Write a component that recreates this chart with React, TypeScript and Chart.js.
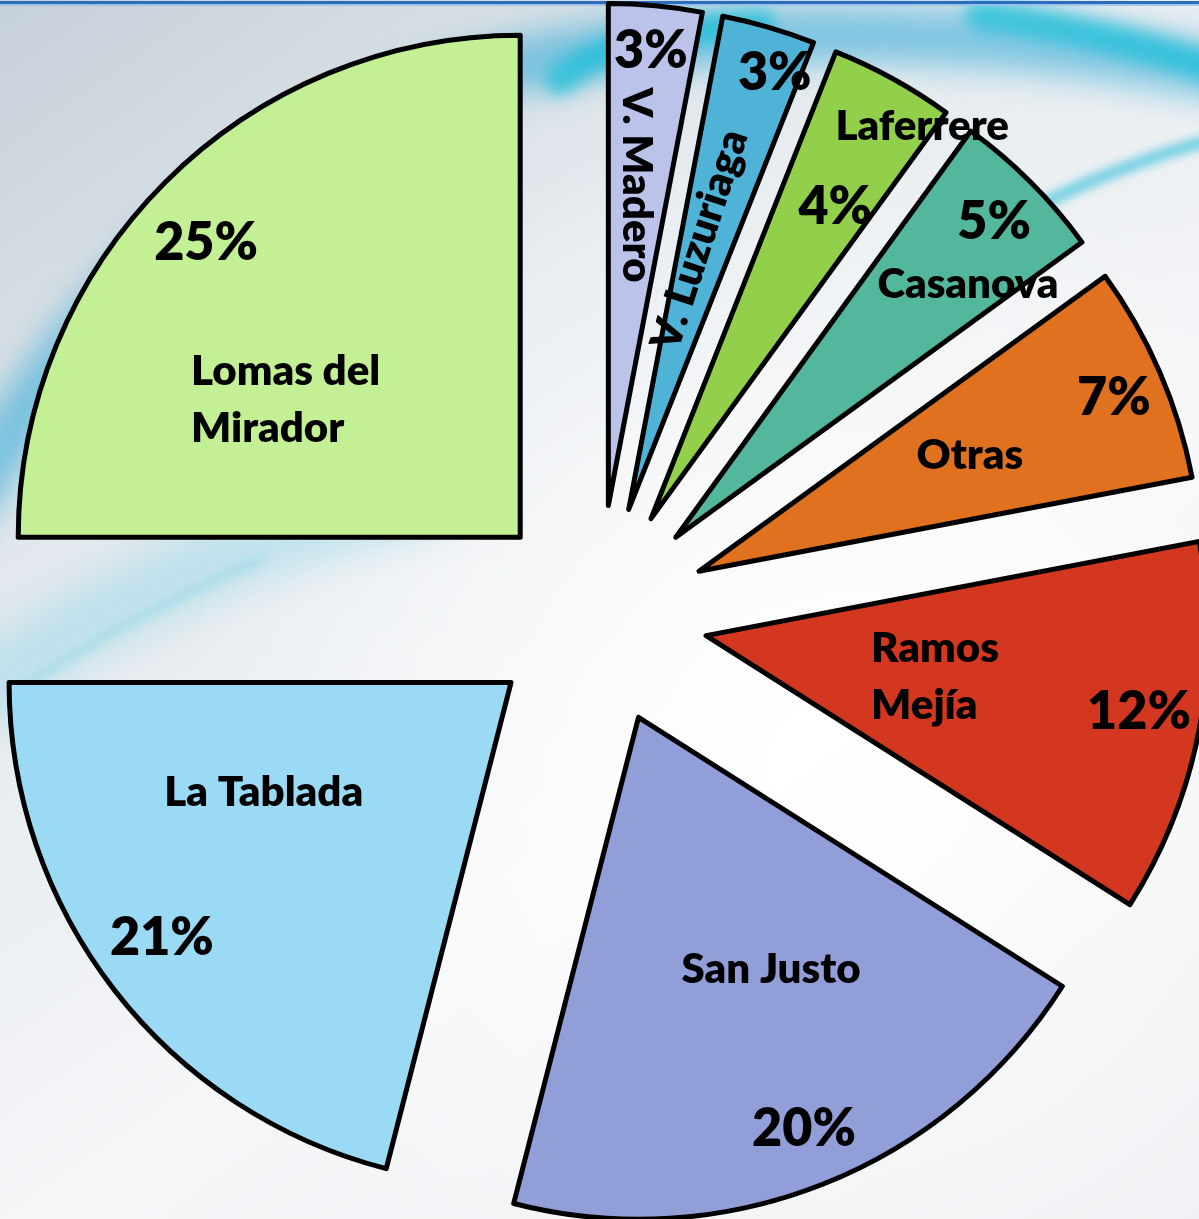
import React, { useEffect, useRef } from "react";
import { Chart, registerables } from "chart.js";

Chart.register(...registerables);

// ---------- data ----------
const categories = [
  "V. Madero",
  "V. Luzuriaga",
  "Laferrere",
  "Casanova",
  "Otras",
  "Ramos Mejía",
  "San Justo",
  "La Tablada",
  "Lomas del Mirador",
];
const shares = [3, 3, 4, 5, 7, 12, 20, 21, 25];
const nameLines = [
  ["V. Madero"],
  ["V. Luzuriaga"],
  ["Laferrere"],
  ["Casanova"],
  ["Otras"],
  ["Ramos", "Mejía"],
  ["San Justo"],
  ["La Tablada"],
  ["Lomas del", "Mirador"],
];

// ---------- styles ----------
const sliceColors = [
  "#bcc3ea",
  "#4fb3d8",
  "#92cf4b",
  "#52b79c",
  "#e0711e",
  "#d4371f",
  "#929ed8",
  "#9adaf4",
  "#c4f095",
];
const EXPLODE = 110;
const RADIUS = 502;
// label placement relative to each slice's vertex: [angle deg clockwise from top, fraction of radius]
const pctPlace = [
  [5.35, 0.909],
  [18.5, 0.917],
  [30.6, 0.721],
  [45.3, 0.892],
  [67.3, 0.896],
  [100.1, 0.876],
  [158.1, 0.884],
  [233.8, 0.862],
  [313.1, 0.857],
];
// [angle, fraction, rotation deg, align]
const namePlace: [number, number, number, CanvasTextAlign][] = [
  [5.1, 0.641, 90, "center"],
  [14.8, 0.555, -72, "center"],
  [34.7, 0.949, 0, "center"],
  [49.1, 0.77, 0, "center"],
  [66.8, 0.587, 0, "center"],
  [104.1, 0.339, 0, "left"],
  [152.3, 0.568, 0, "center"],
  [246.1, 0.539, 0, "center"],
  [292.7, 0.711, 0, "left"],
];
const FONT_FAMILY = "Lato, 'Open Sans', sans-serif";
const PCT_FONT = `800 52px ${FONT_FAMILY}`;
const NAME_FONT = `800 42px ${FONT_FAMILY}`;
const LINE_H = 57;

const backgroundPlugin = {
  id: "slideBackground",
  beforeDraw(chart: any) {
    const ctx: CanvasRenderingContext2D = chart.ctx;
    const W = chart.width;
    const H = chart.height;
    ctx.save();
    const g = ctx.createLinearGradient(0, 0, W * 0.7, H);
    g.addColorStop(0, "#c6d0d8");
    g.addColorStop(0.35, "#e4eaee");
    g.addColorStop(0.7, "#f5f6f8");
    g.addColorStop(1, "#eef0f3");
    ctx.fillStyle = g;
    ctx.fillRect(0, 0, W, H);

    const rg = ctx.createRadialGradient(820, 760, 50, 820, 760, 650);
    rg.addColorStop(0, "rgba(255,255,255,0.95)");
    rg.addColorStop(1, "rgba(255,255,255,0)");
    ctx.fillStyle = rg;
    ctx.fillRect(0, 0, W, H);

    ctx.lineCap = "round";
    // main swirl band
    ctx.filter = "blur(16px)";
    ctx.strokeStyle = "rgba(40,165,215,0.55)";
    ctx.lineWidth = 55;
    ctx.beginPath();
    ctx.moveTo(-30, 500);
    ctx.quadraticCurveTo(200, 90, 640, 45);
    ctx.quadraticCurveTo(950, 15, 1230, 75);
    ctx.stroke();
    ctx.filter = "blur(8px)";
    ctx.strokeStyle = "rgba(20,190,215,0.7)";
    ctx.lineWidth = 30;
    ctx.beginPath();
    ctx.moveTo(560, 80);
    ctx.quadraticCurveTo(620, 30, 760, 25);
    ctx.stroke();
    ctx.beginPath();
    ctx.moveTo(980, 15);
    ctx.quadraticCurveTo(1100, 30, 1220, 70);
    ctx.stroke();
    // secondary soft band
    ctx.filter = "blur(18px)";
    ctx.strokeStyle = "rgba(120,205,230,0.35)";
    ctx.lineWidth = 70;
    ctx.beginPath();
    ctx.moveTo(-30, 700);
    ctx.quadraticCurveTo(150, 560, 420, 500);
    ctx.stroke();
    // thinner streaks
    ctx.filter = "blur(5px)";
    ctx.strokeStyle = "rgba(30,185,215,0.6)";
    ctx.lineWidth = 12;
    ctx.beginPath();
    ctx.moveTo(1040, 205);
    ctx.quadraticCurveTo(1120, 165, 1210, 140);
    ctx.stroke();
    ctx.strokeStyle = "rgba(80,200,225,0.35)";
    ctx.lineWidth = 6;
    ctx.beginPath();
    ctx.moveTo(20, 690);
    ctx.quadraticCurveTo(120, 620, 260, 560);
    ctx.stroke();
    ctx.filter = "none";

    // top rule
    ctx.fillStyle = "#2c6cbd";
    ctx.fillRect(0, 1, W, 3);
    ctx.fillStyle = "rgba(150,190,230,0.8)";
    ctx.fillRect(0, 4, W, 2);
    ctx.restore();
  },
  beforeDatasetsDraw(chart: any) {
    chart.ctx.miterLimit = 3;
  },
  afterDatasetsDraw(chart: any) {
    chart.ctx.miterLimit = 10;
  },
};

const explodePlugin = {
  id: "explodeSlices",
  afterDatasetUpdate(chart: any, args: any) {
    const meta = chart.getDatasetMeta(args.index);
    meta.data.forEach((arc: any) => {
      const mid = (arc.startAngle + arc.endAngle) / 2;
      arc.x += Math.cos(mid) * EXPLODE;
      arc.y += Math.sin(mid) * EXPLODE;
    });
  },
};

const labelPlugin = {
  id: "sliceLabels",
  afterDatasetsDraw(chart: any) {
    const ctx: CanvasRenderingContext2D = chart.ctx;
    const meta = chart.getDatasetMeta(0);
    ctx.save();
    ctx.fillStyle = "#000";
    ctx.textBaseline = "middle";
    meta.data.forEach((arc: any, i: number) => {
      const R = arc.outerRadius;
      const pos = (a: number, f: number) => {
        const r = (a * Math.PI) / 180;
        return [arc.x + Math.sin(r) * f * R, arc.y - Math.cos(r) * f * R];
      };
      // percentage
      const [px, py] = pos(pctPlace[i][0], pctPlace[i][1]);
      ctx.font = PCT_FONT;
      ctx.textAlign = "center";
      ctx.fillText(`${shares[i]}%`, px, py);
      // name
      const [a, f, rot, align] = namePlace[i];
      const [nx, ny] = pos(a, f);
      const lines = nameLines[i];
      ctx.save();
      ctx.translate(nx, ny);
      ctx.rotate((rot * Math.PI) / 180);
      ctx.font = NAME_FONT;
      ctx.textAlign = align;
      lines.forEach((ln, k) => {
        const dy = (k - (lines.length - 1) / 2) * LINE_H;
        ctx.fillText(ln, 0, dy);
      });
      ctx.restore();
    });
    ctx.restore();
  },
};

export default function App() {
  const canvasRef = useRef<HTMLCanvasElement | null>(null);

  useEffect(() => {
    if (!canvasRef.current) return;
    const chart = new Chart(canvasRef.current, {
      type: "pie",
      data: {
        labels: categories,
        datasets: [
          {
            data: shares,
            backgroundColor: sliceColors,
            borderColor: "#000000",
            borderWidth: 5,
            borderJoinStyle: "round",
            radius: RADIUS,
            clip: false,
          } as any,
        ],
      },
      options: {
        animation: false,
        responsive: false,
        maintainAspectRatio: false,
        events: [],
        layout: { padding: { top: 11, right: 3, left: 0, bottom: 0 } },
        plugins: {
          legend: { display: false },
          tooltip: { enabled: false },
          title: { display: false },
        },
      },
      plugins: [backgroundPlugin, explodePlugin, labelPlugin],
    });
    return () => chart.destroy();
  }, []);

  return (
    <div style={{ position: "absolute", left: 0, top: 0, width: 1199, height: 1219, overflow: "hidden" }}>
      <canvas ref={canvasRef} width={1199} height={1219} style={{ display: "block" }} />
    </div>
  );
}
